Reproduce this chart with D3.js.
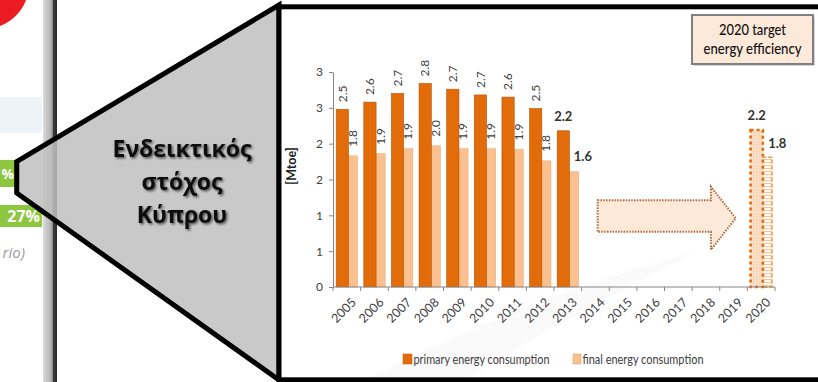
<!DOCTYPE html>
<html><head><meta charset="utf-8">
<script src="https://cdn.jsdelivr.net/npm/d3@7"></script>
<style>body{margin:0;background:#fff}svg{display:block}</style>
</head><body>
<svg id="c" width="818" height="382"></svg>
<script>
// ---- data ----
const years = ["2005","2006","2007","2008","2009","2010","2011","2012","2013","2014","2015","2016","2017","2018","2019","2020"];
const primaryValues = [2.48, 2.58, 2.70, 2.84, 2.76, 2.68, 2.65, 2.49, 2.18, null, null, null, null, null, null, null];
const finalValues   = [1.83, 1.86, 1.93, 1.97, 1.93, 1.93, 1.92, 1.76, 1.61, null, null, null, null, null, null, null];
const primaryLabels = ["2.5","2.6","2.7","2.8","2.7","2.7","2.6","2.5","2.2"];
const finalLabels   = ["1.8","1.9","1.9","2.0","1.9","1.9","1.9","1.8","1.6"];
const targetYear = "2020";
const targetPrimary = 2.19, targetPrimaryLabel = "2.2";
const targetFinal = 1.81, targetFinalLabel = "1.8";
const yTicks = [0, 0.5, 1, 1.5, 2, 2.5, 3];
const yTickLabels = ["0","1","1","2","2","3","3"];
const seriesNames = ["primary energy consumption", "final energy consumption"];
const yTitle = "[Mtoe]";
const targetBoxLines = ["2020 target", "energy efficiency"];
const calloutLines = ["Ενδεικτικός", "στόχος", "Κύπρου"];
const arrowSpan = ["2014", "2019"];
const arrowLevels = [0.52, 0.77, 1.21, 1.40]; // head bottom, body bottom, body top, head top

const C_PRI = "#e36c0a", C_FIN = "#fac090";
const svg = d3.select("#c");
const defs = svg.append("defs");

// ---- left partial page ----
svg.append("rect").attr("x",0).attr("y",97).attr("width",42).attr("height",36).attr("fill","#eef3f8");
svg.append("circle").attr("cx",-16).attr("cy",-16).attr("r",45).attr("fill","#ed1c24");
svg.append("rect").attr("x",0).attr("y",160).attr("width",20).attr("height",27).attr("fill","#8dc63f");
svg.append("rect").attr("x",0).attr("y",205).attr("width",42).attr("height",22).attr("fill","#8dc63f");
svg.append("text").attr("x",14).attr("y",179).attr("text-anchor","end").attr("fill","#fff")
  .attr("font-family","Open Sans").attr("font-weight","bold").attr("font-size",14).text("%");
svg.append("text").attr("x",40).attr("y",222).attr("text-anchor","end").attr("fill","#fff")
  .attr("font-family","Open Sans").attr("font-weight","bold").attr("font-size",16).text("27%");
svg.append("text").attr("x",25).attr("y",258).attr("text-anchor","end").attr("fill","#999")
  .attr("font-family","Open Sans").attr("font-style","italic").attr("font-size",15).text("rio)");
const g1 = defs.append("linearGradient").attr("id","vbar");
[["0%","#dcdcdc"],["25%","#c8c8c8"],["55%","#b4b4b4"],["68%","#8a8a8a"],["75%","#3a3a3a"],["100%","#2a2a2a"]]
  .forEach(s=>g1.append("stop").attr("offset",s[0]).attr("stop-color",s[1]));
svg.append("rect").attr("x",43).attr("y",0).attr("width",14).attr("height",382).attr("fill","url(#vbar)");

// callout triangle
svg.append("path").attr("d","M16.7,161.7 L279,5 L279,380 L16.7,193 Z")
  .attr("fill","#bfbfbf").attr("fill-opacity",0.85).attr("stroke","#000").attr("stroke-width",5).attr("stroke-linejoin","miter");
const sh = defs.append("filter").attr("id","tsh").attr("x","-20%").attr("y","-20%").attr("width","140%").attr("height","140%");
sh.append("feDropShadow").attr("dx",1.5).attr("dy",1.5).attr("stdDeviation",1.2).attr("flood-color","#000").attr("flood-opacity",0.6);
svg.append("g").attr("filter","url(#tsh)").selectAll("text").data(calloutLines).join("text")
  .attr("x",182).attr("y",(d,i)=>157+i*33).attr("text-anchor","middle")
  .attr("font-family","Open Sans").attr("font-weight","bold").attr("font-size",23).attr("fill","#111").text(d=>d);

// ---- chart box ----
svg.append("rect").attr("x",279).attr("y",6.8).attr("width",560).attr("height",373).attr("fill","#fff")
  .attr("stroke","#000").attr("stroke-width",5);
// faint swoosh
svg.append("path").attr("d","M372,377 Q520,300 700,250 Q560,320 470,377 Z").attr("fill","#fafafa");

// ---- scales ----
const x = d3.scaleBand().domain(years).range([333,775]).padding(0);
const y = d3.scaleLinear().domain([0,3]).range([287,72]);
const bw = x.bandwidth();
const priOff = bw*0.115, priW = bw*0.445, finOff = bw*0.535, finW = bw*0.355;

// y axis
const ya = svg.append("g").attr("transform","translate(333,0)")
  .call(d3.axisLeft(y).tickValues(yTicks).tickFormat((d,i)=>yTickLabels[i]).tickSize(4).tickSizeOuter(0));
ya.select(".domain").attr("stroke","#868686");
ya.selectAll(".tick line").attr("stroke","#868686");
ya.selectAll(".tick text").attr("font-family","Lato").attr("font-size",12).attr("fill","#404040").attr("x",-10);

svg.append("text").attr("transform","translate(296,166) rotate(-90)").attr("text-anchor","middle")
  .attr("font-family","Lato").attr("font-weight","bold").attr("font-size",12.5).attr("fill","#222").text(yTitle);

// bars
const rows = years.map((yr,i)=>({yr, p:primaryValues[i], f:finalValues[i], pl:primaryLabels[i], fl:finalLabels[i]}))
  .filter(d=>d.p!=null);
svg.append("g").selectAll("rect").data(rows).join("rect")
  .attr("x",d=>x(d.yr)+finOff).attr("width",finW).attr("y",d=>y(d.f)).attr("height",d=>y(0)-y(d.f))
  .attr("fill",C_FIN).attr("stroke","#e8a870").attr("stroke-width",0.5);
svg.append("g").selectAll("rect").data(rows).join("rect")
  .attr("x",d=>x(d.yr)+priOff).attr("width",priW).attr("y",d=>y(d.p)).attr("height",d=>y(0)-y(d.p))
  .attr("fill",C_PRI).attr("stroke","#b85508").attr("stroke-width",0.6);

// rotated labels (all but last actual year)
const rotRows = rows.slice(0, rows.length-1);
svg.append("g").selectAll("text").data(rotRows).join("text")
  .attr("transform",d=>`translate(${x(d.yr)+priOff+priW/2},${y(d.p)-7}) rotate(-90)`)
  .attr("dy","0.35em").attr("font-family","Lato").attr("font-size",12).attr("fill","#404040").text(d=>d.pl);
svg.append("g").selectAll("text").data(rotRows).join("text")
  .attr("transform",d=>`translate(${x(d.yr)+finOff+finW/2},${y(d.f)-9}) rotate(-90)`)
  .attr("dy","0.35em").attr("font-family","Lato").attr("font-size",12).attr("fill","#404040").text(d=>d.fl);
const last = rows[rows.length-1];
svg.append("text").attr("x",x(last.yr)+priOff+priW/2).attr("y",y(last.p)-10).attr("text-anchor","middle")
  .attr("font-family","Lato").attr("font-weight","bold").attr("font-size",13).attr("fill","#333").text(last.pl);
svg.append("text").attr("x",x(last.yr)+finOff+5).attr("y",y(last.f)-10.5)
  .attr("font-family","Lato").attr("font-weight","bold").attr("font-size",13).attr("fill","#333").text(last.fl);

// target bars
const hp = defs.append("pattern").attr("id","hlines").attr("patternUnits","userSpaceOnUse").attr("width",4).attr("height",3);
hp.append("rect").attr("width",4).attr("height",3).attr("fill","#fff");
hp.append("rect").attr("width",4).attr("height",1.2).attr("fill","#f9c69b");
const dp = defs.append("pattern").attr("id","dots").attr("patternUnits","userSpaceOnUse").attr("width",3).attr("height",3);
dp.append("rect").attr("width",3).attr("height",3).attr("fill","#fbe0c9");
dp.append("rect").attr("width",1.5).attr("height",1.5).attr("fill","#f8cfad");
svg.append("rect").attr("x",x(targetYear)+finOff).attr("width",finW).attr("y",y(targetFinal)).attr("height",y(0)-y(targetFinal))
  .attr("fill","url(#hlines)").attr("stroke","#f79646").attr("stroke-width",1.5).attr("stroke-dasharray","4,2");
svg.append("rect").attr("x",x(targetYear)+priOff).attr("width",priW).attr("y",y(targetPrimary)).attr("height",y(0)-y(targetPrimary))
  .attr("fill","url(#dots)").attr("stroke",C_PRI).attr("stroke-width",2.6).attr("stroke-dasharray","3,3");
svg.append("text").attr("x",x(targetYear)+priOff+priW/2).attr("y",y(targetPrimary)-10.5).attr("text-anchor","middle")
  .attr("font-family","Lato").attr("font-weight","bold").attr("font-size",13).attr("fill","#333").text(targetPrimaryLabel);
svg.append("text").attr("x",x(targetYear)+finOff+6).attr("y",y(targetFinal)-9)
  .attr("font-family","Lato").attr("font-weight","bold").attr("font-size",13).attr("fill","#333").text(targetFinalLabel);

// x axis
svg.append("line").attr("x1",x.range()[0]).attr("x2",x.range()[1]).attr("y1",y(0)).attr("y2",y(0)).attr("stroke","#868686");
const bounds = years.map(d=>x(d)).concat([x.range()[1]]);
svg.append("g").selectAll("line").data(bounds).join("line")
  .attr("x1",d=>d).attr("x2",d=>d).attr("y1",y(0)).attr("y2",y(0)+4).attr("stroke","#868686");
svg.append("g").selectAll("text").data(years).join("text")
  .attr("transform",d=>`translate(${x(d)+bw/2+4},${y(0)+10}) rotate(-45)`)
  .attr("text-anchor","end").attr("dy","0.7em").attr("font-family","Lato").attr("font-size",12.5).attr("fill","#404040").text(d=>d);

// arrow
const ax0 = x(arrowSpan[0])+bw*0.58, ax1 = x(arrowSpan[1])+bw*0.58, ahb = ax1 - (bw*0.9);
const [hB, bB, bT, hT] = arrowLevels.map(v=>y(v));
svg.append("path")
  .attr("d",`M${ax0},${bT} L${ahb},${bT} L${ahb},${hT} L${ax1},${(hT+hB)/2} L${ahb},${hB} L${ahb},${bB} L${ax0},${bB} Z`)
  .attr("fill","#fde9d9").attr("stroke","#b06a38").attr("stroke-width",2).attr("stroke-dasharray","1.5,1.3");

// target box
const tb = svg.append("g");
tb.append("rect").attr("x",694).attr("y",17).attr("width",121).attr("height",49).attr("fill","#bbb").attr("opacity",0.6);
tb.append("rect").attr("x",692).attr("y",15).attr("width",121).attr("height",49).attr("fill","#fde9d9")
  .attr("stroke","#808080").attr("stroke-width",2);
tb.selectAll("text").data(targetBoxLines).join("text").attr("x",752.5).attr("y",(d,i)=>35+i*18.5)
  .attr("text-anchor","middle").attr("font-family","Lato").attr("font-weight","500").attr("font-size",15).attr("fill","#111")
  .attr("textLength",(d,i)=>i?98:67).attr("lengthAdjust","spacingAndGlyphs").text(d=>d);

// legend
const lg = [{x:403, w:9, c:C_PRI, t:seriesNames[0], len:136},{x:573, w:8, c:C_FIN, t:seriesNames[1], len:121}];
const lgG = svg.append("g").selectAll("g").data(lg).join("g");
lgG.append("rect").attr("x",d=>d.x).attr("y",354).attr("width",d=>d.w).attr("height",10).attr("fill",d=>d.c)
  .attr("stroke",d=>d3.color(d.c).darker(0.5)).attr("stroke-width",0.5);
lgG.append("text").attr("x",d=>d.x+d.w+1.5).attr("y",363.5).attr("font-family","Lato").attr("font-size",12.5)
  .attr("fill","#404040").attr("textLength",d=>d.len).attr("lengthAdjust","spacingAndGlyphs").text(d=>d.t);
</script>
</body></html>
